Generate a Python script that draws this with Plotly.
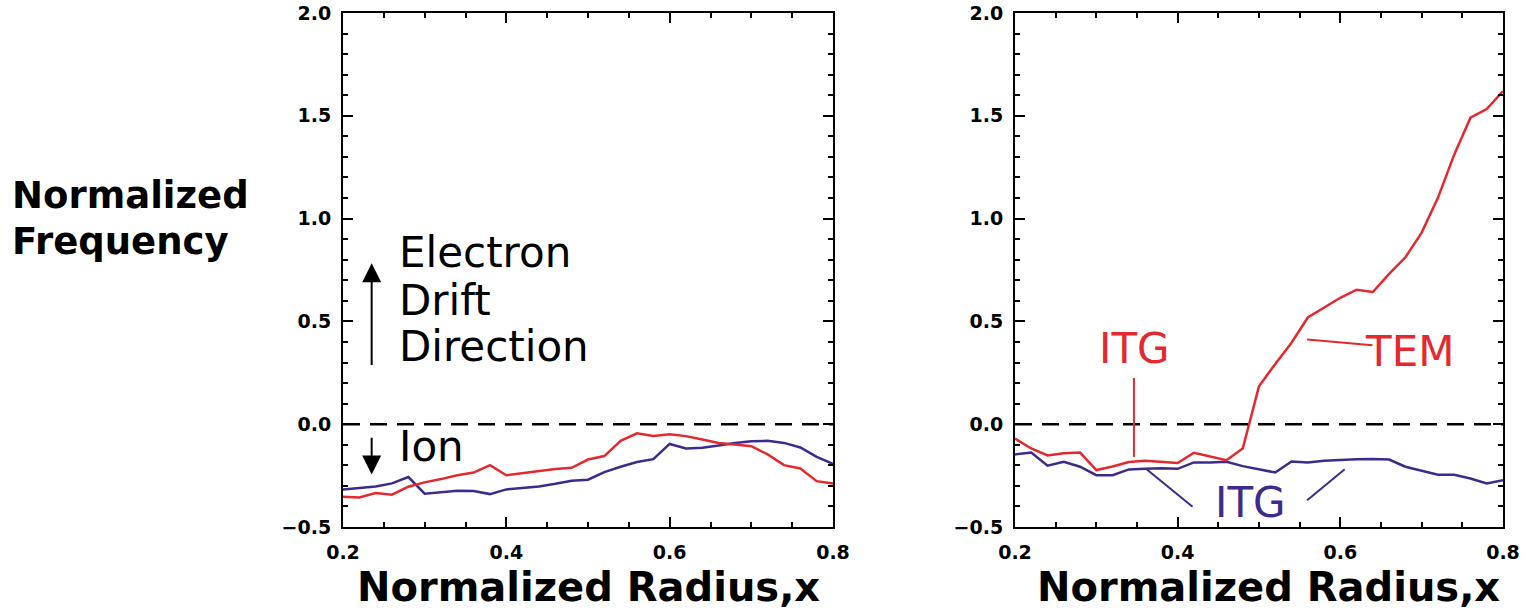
import plotly.graph_objects as go

# ---------------- data ----------------
radius = [0.20, 0.22, 0.24, 0.26, 0.28, 0.30, 0.32, 0.34, 0.36, 0.38, 0.40,
          0.42, 0.44, 0.46, 0.48, 0.50, 0.52, 0.54, 0.56, 0.58, 0.60,
          0.62, 0.64, 0.66, 0.68, 0.70, 0.72, 0.74, 0.76, 0.78, 0.80]

left_red = [-0.353, -0.356, -0.335, -0.343, -0.304, -0.283, -0.267, -0.248, -0.235, -0.199, -0.248,
            -0.238, -0.228, -0.218, -0.212, -0.172, -0.155, -0.081, -0.044, -0.057, -0.049,
            -0.058, -0.074, -0.091, -0.099, -0.107, -0.147, -0.199, -0.215, -0.277, -0.288]
left_blue = [-0.317, -0.309, -0.303, -0.288, -0.257, -0.338, -0.332, -0.324, -0.325, -0.340, -0.317,
             -0.311, -0.303, -0.290, -0.275, -0.270, -0.233, -0.207, -0.184, -0.170, -0.096,
             -0.118, -0.115, -0.104, -0.091, -0.083, -0.081, -0.091, -0.113, -0.159, -0.193]

right_red = [-0.070, -0.118, -0.152, -0.141, -0.138, -0.223, -0.206, -0.184, -0.178, -0.183, -0.189,
             -0.139, -0.157, -0.175, -0.118, 0.184, 0.293, 0.396, 0.519, 0.567, 0.615,
             0.654, 0.643, 0.731, 0.812, 0.932, 1.101, 1.311, 1.491, 1.533, 1.620]
right_blue = [-0.147, -0.138, -0.202, -0.183, -0.207, -0.248, -0.248, -0.220, -0.217, -0.214, -0.217,
              -0.186, -0.186, -0.183, -0.204, -0.220, -0.235, -0.181, -0.186, -0.178, -0.173,
              -0.170, -0.169, -0.172, -0.207, -0.228, -0.246, -0.246, -0.264, -0.288, -0.273]

x_ticks = [0.2, 0.4, 0.6, 0.8]
x_tick_text = ["0.2", "0.4", "0.6", "0.8"]
y_ticks = [-0.5, 0.0, 0.5, 1.0, 1.5, 2.0]
y_tick_text = ["\u22120.5", "0.0", "0.5", "1.0", "1.5", "2.0"]

RED = "#E4282F"
BLUE = "#3E2A8C"
FONT = "DejaVu Sans"

W, H = 1526, 613
MT, MB = 13, 86
PH = H - MT - MB

fig = go.Figure()

fig.add_trace(go.Scatter(x=radius, y=left_blue, mode="lines", line=dict(color=BLUE, width=2.5),
                         xaxis="x", yaxis="y", showlegend=False))
fig.add_trace(go.Scatter(x=radius, y=left_red, mode="lines", line=dict(color=RED, width=2.5),
                         xaxis="x", yaxis="y", showlegend=False))
fig.add_trace(go.Scatter(x=radius, y=right_blue, mode="lines", line=dict(color=BLUE, width=2.5),
                         xaxis="x2", yaxis="y2", showlegend=False))
fig.add_trace(go.Scatter(x=radius, y=right_red, mode="lines", line=dict(color=RED, width=2.5),
                         xaxis="x2", yaxis="y2", showlegend=False))

tickfont = dict(family=FONT, size=19, color="black", weight="bold")


def xaxis_cfg(domain, anchor):
    return dict(domain=domain, anchor=anchor, range=[0.2, 0.8], automargin=False,
                tickvals=x_ticks, ticktext=x_tick_text, tickfont=tickfont,
                ticks="inside", ticklen=10, tickwidth=2, tickcolor="black",
                minor=dict(ticks="inside", dtick=0.05, ticklen=5, tickwidth=2, tickcolor="black"),
                showline=True, linecolor="black", linewidth=2, mirror="ticks",
                showgrid=False, zeroline=False, ticklabelstandoff=7)


def yaxis_cfg(anchor):
    return dict(domain=[0, 1], anchor=anchor, range=[-0.5, 2.0], automargin=False,
                tickvals=y_ticks, ticktext=y_tick_text, tickfont=tickfont,
                ticks="inside", ticklen=10, tickwidth=2, tickcolor="black",
                minor=dict(ticks="inside", dtick=0.1, ticklen=5, tickwidth=2, tickcolor="black"),
                showline=True, linecolor="black", linewidth=2, mirror="ticks",
                showgrid=False, zeroline=False, ticklabelstandoff=6)


fig.update_layout(
    width=W, height=H,
    margin=dict(l=0, r=0, t=MT, b=MB, autoexpand=False),
    paper_bgcolor="white", plot_bgcolor="white",
    xaxis=xaxis_cfg([343 / W, 833 / W], "y"),
    yaxis=yaxis_cfg("x"),
    xaxis2=xaxis_cfg([1015 / W, 1503 / W], "y2"),
    yaxis2=yaxis_cfg("x2"),
)

# zero dashed lines
for xr, yr in (("x", "y"), ("x2", "y2")):
    fig.add_shape(type="line", xref=xr, yref=yr, x0=0.2, x1=0.8, y0=0, y1=0,
                  line=dict(color="black", width=2.5, dash="17px,10px"))


def py_to_paper(py):
    return (H - MB - py) / PH


big = dict(family=FONT, size=42, color="black")
bold_lbl = dict(family=FONT, size=37, color="black", weight="bold")

ann = []
# Left y label
ann.append(dict(text="<b>Normalized</b>", xref="paper", yref="paper", x=10 / W, y=py_to_paper(196),
                xanchor="left", yanchor="middle", showarrow=False, font=bold_lbl))
ann.append(dict(text="<b>Frequency</b>", xref="paper", yref="paper", x=10 / W, y=py_to_paper(242),
                xanchor="left", yanchor="middle", showarrow=False, font=bold_lbl))
# X titles
for cx in (588, 1268):
    ann.append(dict(text="<b>Normalized Radius,x</b>", xref="paper", yref="paper", x=cx / W,
                    y=py_to_paper(587), xanchor="center", yanchor="middle", showarrow=False,
                    font=dict(family=FONT, size=40, color="black")))

# Left panel texts
for txt, yv in (("Electron", 0.837), ("Drift", 0.603), ("Direction", 0.376), ("Ion", -0.110)):
    ann.append(dict(text=txt, xref="x", yref="y", x=0.266, y=yv, xanchor="left", yanchor="middle",
                    showarrow=False, font=big))
# arrows
ann.append(dict(text="", xref="x", yref="y", x=0.2351, y=0.783, axref="x", ayref="y",
                ax=0.2351, ay=0.281, showarrow=True, arrowhead=2, arrowsize=1.9, arrowwidth=2,
                arrowcolor="black"))
ann.append(dict(text="", xref="x", yref="y", x=0.2351, y=-0.245, axref="x", ayref="y",
                ax=0.2351, ay=-0.059, showarrow=True, arrowhead=2, arrowsize=1.9, arrowwidth=2,
                arrowcolor="black"))

# Right panel labels
ann.append(dict(text="ITG", xref="x2", yref="y2", x=0.3468, y=0.370, xanchor="center", yanchor="middle",
                showarrow=False, font=dict(family=FONT, size=42, color=RED)))
ann.append(dict(text="TEM", xref="x2", yref="y2", x=0.6853, y=0.355, xanchor="center", yanchor="middle",
                showarrow=False, font=dict(family=FONT, size=42, color=RED)))
ann.append(dict(text="ITG", xref="x2", yref="y2", x=0.4894, y=-0.379, xanchor="center", yanchor="middle",
                showarrow=False, font=dict(family=FONT, size=42, color=BLUE)))
fig.update_layout(annotations=ann)

# leader lines on right panel
leaders = [
    (0.3462, 0.225, 0.3462, -0.159, RED),
    (0.5592, 0.412, 0.6395, 0.384, RED),
    (0.3618, -0.219, 0.4183, -0.402, BLUE),
    (0.6054, -0.219, 0.5592, -0.370, BLUE),
]
for x0, y0, x1, y1, c in leaders:
    fig.add_shape(type="line", xref="x2", yref="y2", x0=x0, y0=y0, x1=x1, y1=y1,
                  line=dict(color=c, width=2))

fig.write_html("out.html")
